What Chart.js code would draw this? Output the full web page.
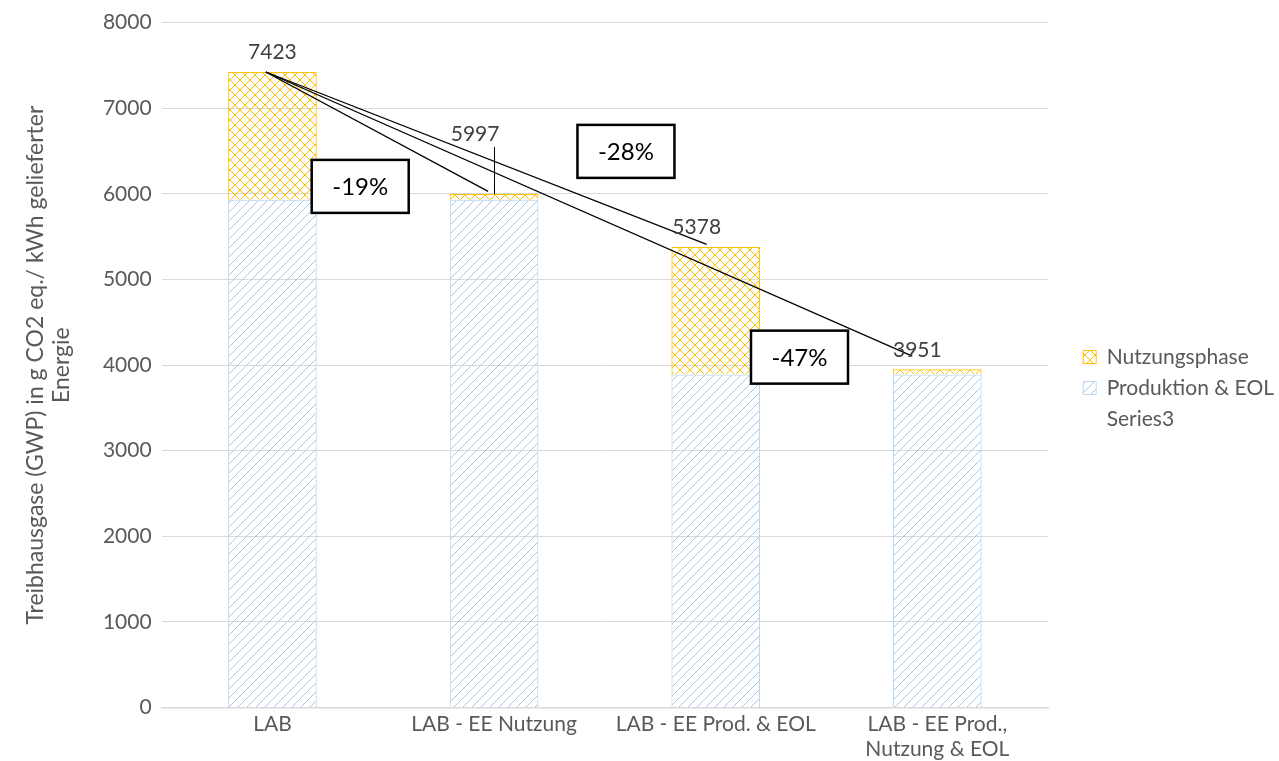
<!DOCTYPE html>
<html>
<head>
<meta charset="utf-8">
<script src="https://cdn.jsdelivr.net/npm/chart.js@4/dist/chart.umd.min.js"></script>
<style>
  html, body { margin: 0; padding: 0; background: #ffffff; }
  #wrap { width: 1279px; height: 761px; position: relative; }
</style>
</head>
<body>
<div id="wrap"><canvas id="chart"></canvas></div>
<script>
// Scenario names on the x axis
const categories = ['LAB', 'LAB - EE Nutzung', 'LAB - EE Prod. & EOL', ['LAB - EE Prod.,', 'Nutzung & EOL']];
// GWP contributions in g CO2 eq. per kWh delivered energy
const produktionEOL = [5930, 5930, 3890, 3890];
const nutzungsphase = [1493, 67, 1488, 61];
// Totals per scenario (shown as value labels)
const series3 = produktionEOL.map((v, i) => v + nutzungsphase[i]);
// Y axis ticks
const yMin = 0, yMax = 8000, yStep = 1000;
// Reduction call-outs (category position, value position, text)
const reductionText = ['-19%', '-28%', '-47%'];
const reductionCat = [0.396, 1.595, 2.378];
const reductionVal = [6087, 6496, 4093];
// Connector lines from the LAB total towards the other totals
const connectorStart = [-0.03, 7423];
const connectorEndCat = [0.973, 1.959, 2.887];
const connectorEndVal = [6029, 5411, 4105];

const FONT = 'Lato, "Open Sans", sans-serif';
const GREY = '#595959';

function makePattern(kind, color, s) {
  const c = document.createElement('canvas');
  c.width = s; c.height = s;
  const g = c.getContext('2d');
  g.strokeStyle = color;
  g.lineWidth = 1;
  g.beginPath();
  if (kind === 'cross') {
    g.moveTo(0, 0); g.lineTo(s, s);
    g.moveTo(s, 0); g.lineTo(0, s);
  } else {
    g.moveTo(-1, s + 1); g.lineTo(s + 1, -1);
    g.moveTo(-1, 1); g.lineTo(1, -1);
    g.moveTo(s - 1, s + 1); g.lineTo(s + 1, s - 1);
  }
  g.stroke();
  return g.createPattern(c, 'repeat');
}

const YELLOW = '#ffc000';
const BLUE = '#bdd7ee';
const crossFill = makePattern('cross', YELLOW, 10);
const diagFill = makePattern('diag', '#a6c8ec', 9);

// Layout of the value labels relative to the bar top (px)
const labelShift = [[0, -20], [-19, -60], [-19, -20], [-20, -19]];
// Legend: order of entries, gap left of the legend and extra shift (px)
const legendRank = { 'Nutzungsphase': 0, 'Produktion & EOL': 1, 'Series3': 2 };
const LEGEND_GAP = 20;
const LEGEND_SHIFT = 5;

const legendGap = {
  id: 'legendGap',
  afterInit(chart) {
    const lg = chart.legend;
    const fit = lg.fit.bind(lg);
    lg.fit = function () { fit(); this.width += LEGEND_GAP; };
  },
  afterLayout(chart) {
    const lg = chart.legend;
    lg.left += LEGEND_GAP + LEGEND_SHIFT;
    lg.right += LEGEND_SHIFT;
    lg.width -= LEGEND_GAP;
  }
};

const annotations = {
  id: 'annotations',
  afterDatasetsDraw(chart) {
    const ctx = chart.ctx;
    const xs = chart.scales.x, ys = chart.scales.y;
    const x0 = xs.getPixelForValue(0), dx = xs.getPixelForValue(1) - x0;
    const xAt = c => x0 + c * dx;
    const yAt = v => ys.getPixelForValue(v);
    ctx.save();
    // connector lines
    ctx.strokeStyle = '#000';
    ctx.lineWidth = 1.3;
    const sx = xAt(connectorStart[0]), sy = yAt(connectorStart[1]);
    connectorEndCat.forEach((c, i) => {
      ctx.beginPath();
      ctx.moveTo(sx, sy);
      ctx.lineTo(xAt(c), yAt(connectorEndVal[i]));
      ctx.stroke();
    });
    // leader from the 5997 label to its bar
    ctx.lineWidth = 1;
    ctx.beginPath();
    ctx.moveTo(Math.round(xAt(1)) + 0.5, yAt(series3[1]) + labelShift[1][1] + 13);
    ctx.lineTo(Math.round(xAt(1)) + 0.5, yAt(series3[1]));
    ctx.stroke();
    // value labels
    ctx.font = '21px ' + FONT;
    ctx.fillStyle = '#404040';
    ctx.textAlign = 'center';
    ctx.textBaseline = 'middle';
    series3.forEach((v, i) => {
      ctx.fillText(String(v), xAt(i) + labelShift[i][0], yAt(v) + labelShift[i][1]);
    });
    // reduction boxes
    const bw = 97, bh = 53;
    reductionText.forEach((t, i) => {
      const cx = xAt(reductionCat[i]), cy = yAt(reductionVal[i]);
      ctx.fillStyle = '#fff';
      ctx.fillRect(cx - bw / 2, cy - bh / 2, bw, bh);
      ctx.lineWidth = 2.5;
      ctx.strokeStyle = '#000';
      ctx.strokeRect(cx - bw / 2, cy - bh / 2, bw, bh);
      ctx.fillStyle = '#000';
      ctx.font = '24px ' + FONT;
      ctx.fillText(t, cx, cy + 1);
    });
    ctx.restore();
  }
};

new Chart(document.getElementById('chart'), {
  type: 'bar',
  data: {
    labels: categories,
    datasets: [
      {
        label: 'Produktion & EOL',
        data: produktionEOL,
        backgroundColor: diagFill,
        borderColor: BLUE,
        borderWidth: 1,
        stack: 's'
      },
      {
        label: 'Nutzungsphase',
        data: nutzungsphase,
        backgroundColor: crossFill,
        borderColor: YELLOW,
        borderWidth: 1,
        stack: 's'
      },
      {
        type: 'line',
        label: 'Series3',
        data: series3,
        showLine: false,
        pointRadius: 0,
        pointHoverRadius: 0,
        borderColor: 'rgba(0,0,0,0)',
        backgroundColor: 'rgba(0,0,0,0)'
      }
    ]
  },
  options: {
    responsive: true,
    maintainAspectRatio: false,
    animation: false,
    layout: { padding: { top: 10, right: 0, bottom: -5, left: 22 } },
    datasets: { bar: { categoryPercentage: 0.8, barPercentage: 0.5 } },
    scales: {
      x: {
        stacked: true,
        grid: { display: false, drawTicks: false },
        border: { display: true, color: '#d9d9d9', width: 1.5 },
        ticks: { color: GREY, font: { family: FONT, size: 21, lineHeight: 1.2 }, padding: 4, maxRotation: 0, autoSkip: false }
      },
      y: {
        stacked: true,
        min: yMin, max: yMax,
        grid: { color: '#d9d9d9', lineWidth: 1, drawTicks: false },
        border: { display: false },
        ticks: {
          stepSize: yStep, color: GREY, font: { family: FONT, size: 21 }, padding: 10,
          callback: v => String(v)
        },
        title: {
          display: true,
          text: ['Treibhausgase (GWP) in g CO2 eq./ kWh gelieferter', 'Energie'],
          color: GREY,
          font: { family: FONT, size: 23, lineHeight: 1.15 },
          padding: { top: 0, bottom: 18 }
        }
      }
    },
    plugins: {
      tooltip: { enabled: false },
      legend: {
        position: 'right',
        labels: {
          color: GREY,
          font: { family: FONT, size: 21 },
          boxWidth: 13,
          boxHeight: 13,
          padding: 10,
          sort: (a, b) => legendRank[a.text] - legendRank[b.text],
          generateLabels(chart) {
            return chart.data.datasets.map((ds, i) => ({
              text: ds.label,
              fillStyle: ds.type === 'line' ? 'rgba(0,0,0,0)' : ds.backgroundColor,
              strokeStyle: ds.type === 'line' ? 'rgba(0,0,0,0)' : ds.borderColor,
              lineWidth: ds.type === 'line' ? 0 : 1,
              fontColor: GREY,
              hidden: false,
              datasetIndex: i
            }));
          }
        }
      }
    }
  },
  plugins: [legendGap, annotations]
});
</script>
</body>
</html>
